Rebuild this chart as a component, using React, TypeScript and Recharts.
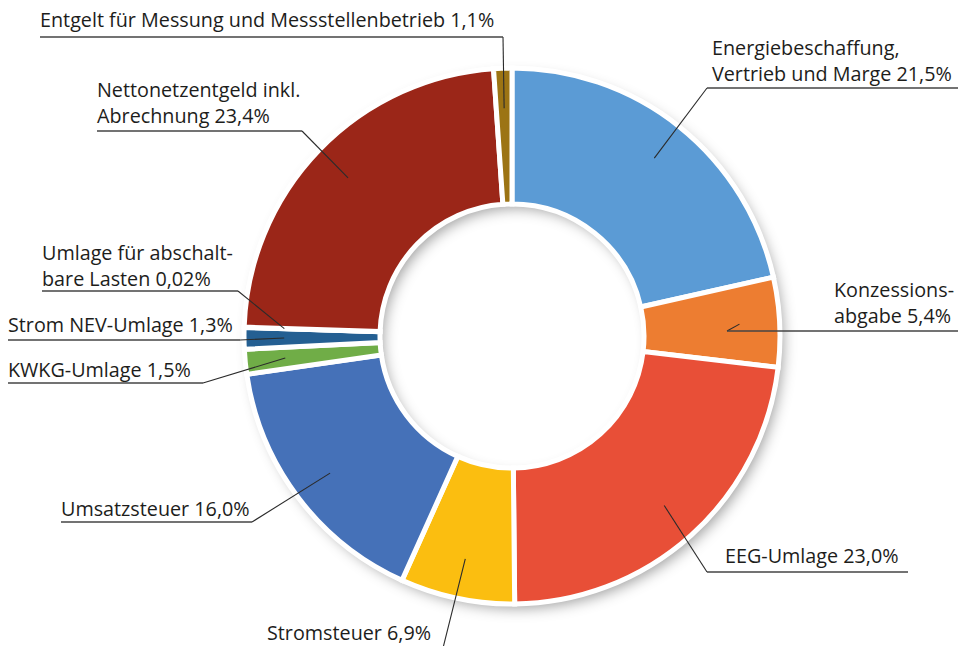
import React from "react";
import { PieChart, Pie, Cell } from "recharts";

const names = [
  "Energiebeschaffung, Vertrieb und Marge",
  "Konzessionsabgabe",
  "EEG-Umlage",
  "Stromsteuer",
  "Umsatzsteuer",
  "KWKG-Umlage",
  "Strom NEV-Umlage",
  "Umlage für abschaltbare Lasten",
  "Nettonetzentgeld inkl. Abrechnung",
  "Entgelt für Messung und Messstellenbetrieb",
];
const shares = [21.5, 5.4, 23.0, 6.9, 16.0, 1.5, 1.3, 0.02, 23.4, 1.1];
const labelTexts = [
  ["Energiebeschaffung,", "Vertrieb und Marge 21,5%"],
  ["Konzessions-", "abgabe 5,4%"],
  ["EEG-Umlage 23,0%"],
  ["Stromsteuer 6,9%"],
  ["Umsatzsteuer 16,0%"],
  ["KWKG-Umlage 1,5%"],
  ["Strom NEV-Umlage 1,3%"],
  ["Umlage für abschalt-", "bare Lasten 0,02%"],
  ["Nettonetzentgeld inkl.", "Abrechnung 23,4%"],
  ["Entgelt für Messung und Messstellenbetrieb 1,1%"],
];
const colors = [
  "#5B9BD5", "#ED7D31", "#E84F37", "#FBBE10", "#4571B8",
  "#70AD47", "#245F92", "#7F7F7F", "#9B2618", "#9C7414",
];

// label layout (text position, underline and elbow of leader line)
const layout = [
  { tx: 712, ty: 55, ly: 88, x1: 707, x2: 958, ex: 707 },
  { tx: 834, ty: 297, ly: 331, x1: 727, x2: 958, ex: 727 },
  { tx: 725, ty: 563, ly: 572, x1: 707, x2: 908, ex: 707 },
  { tx: 267, ty: 640, ly: 652, x1: 267, x2: 442, ex: 442 },
  { tx: 61, ty: 516, ly: 522, x1: 61, x2: 252, ex: 252 },
  { tx: 8, ty: 377, ly: 383, x1: 8, x2: 203, ex: 203 },
  { tx: 8, ty: 332, ly: 340, x1: 8, x2: 240, ex: 240 },
  { tx: 42, ty: 260, ly: 291, x1: 42, x2: 238, ex: 238 },
  { tx: 97, ty: 97, ly: 131, x1: 97, x2: 302, ex: 302 },
  { tx: 40, ty: 27, ly: 37, x1: 40, x2: 503, ex: 503 },
];

const data = names.map((n, i) => ({ name: n, value: shares[i] }));
const ring = [{ name: "ring", value: 100 }];

const RAD = Math.PI / 180;

const renderLabel = (props: any) => {
  const { cx, cy, midAngle, index, outerRadius } = props;
  const L = layout[index];
  const r = outerRadius * 0.85;
  const sx = cx + r * Math.cos(-midAngle * RAD);
  const sy = cy + r * Math.sin(-midAngle * RAD);
  const lines = labelTexts[index];
  return (
    <g key={`lbl-${index}`}>
      <polyline
        points={`${sx},${sy} ${L.ex},${L.ly}`}
        fill="none"
        stroke="#2b2b2b"
        strokeWidth={1.1}
      />
      <line x1={L.x1} y1={L.ly} x2={L.x2} y2={L.ly} stroke="#444" strokeWidth={1.3} />
      <text
        x={L.tx}
        y={L.ty}
        fill="#1d1d1b"
        fontFamily="'Open Sans', sans-serif"
        fontSize={19.75}
        textAnchor="start"
      >
        {lines.map((t, k) => (
          <tspan key={k} x={L.tx} dy={k === 0 ? 0 : 26}>
            {t}
          </tspan>
        ))}
      </text>
    </g>
  );
};

export default function App() {
  return (
    <div style={{ position: "absolute", left: 0, top: 0, width: 958, height: 646, background: "#fff" }}>
      <svg width={0} height={0} style={{ position: "absolute" }}>
        <defs>
          <filter id="ringShadow" x="-20%" y="-20%" width="140%" height="140%">
            <feDropShadow dx={5} dy={6} stdDeviation={7} floodColor="#000" floodOpacity={0.38} />
          </filter>
        </defs>
      </svg>
      <PieChart width={958} height={646} margin={{ top: 0, right: 0, bottom: 0, left: 0 }}>
        <Pie
          data={ring}
          dataKey="value"
          cx={512}
          cy={336}
          innerRadius={134}
          outerRadius={266}
          startAngle={90}
          endAngle={-270}
          stroke="none"
          isAnimationActive={false}
        >
          <Cell fill="#ffffff" filter="url(#ringShadow)" />
        </Pie>
        <Pie
          data={data}
          dataKey="value"
          cx={512}
          cy={336}
          innerRadius={132}
          outerRadius={268}
          startAngle={90}
          endAngle={-270}
          stroke="#ffffff"
          strokeWidth={5}
          label={renderLabel}
          labelLine={false}
          isAnimationActive={false}
        >
          {data.map((d, i) => (
            <Cell key={d.name} fill={colors[i]} />
          ))}
        </Pie>
      </PieChart>
    </div>
  );
}
